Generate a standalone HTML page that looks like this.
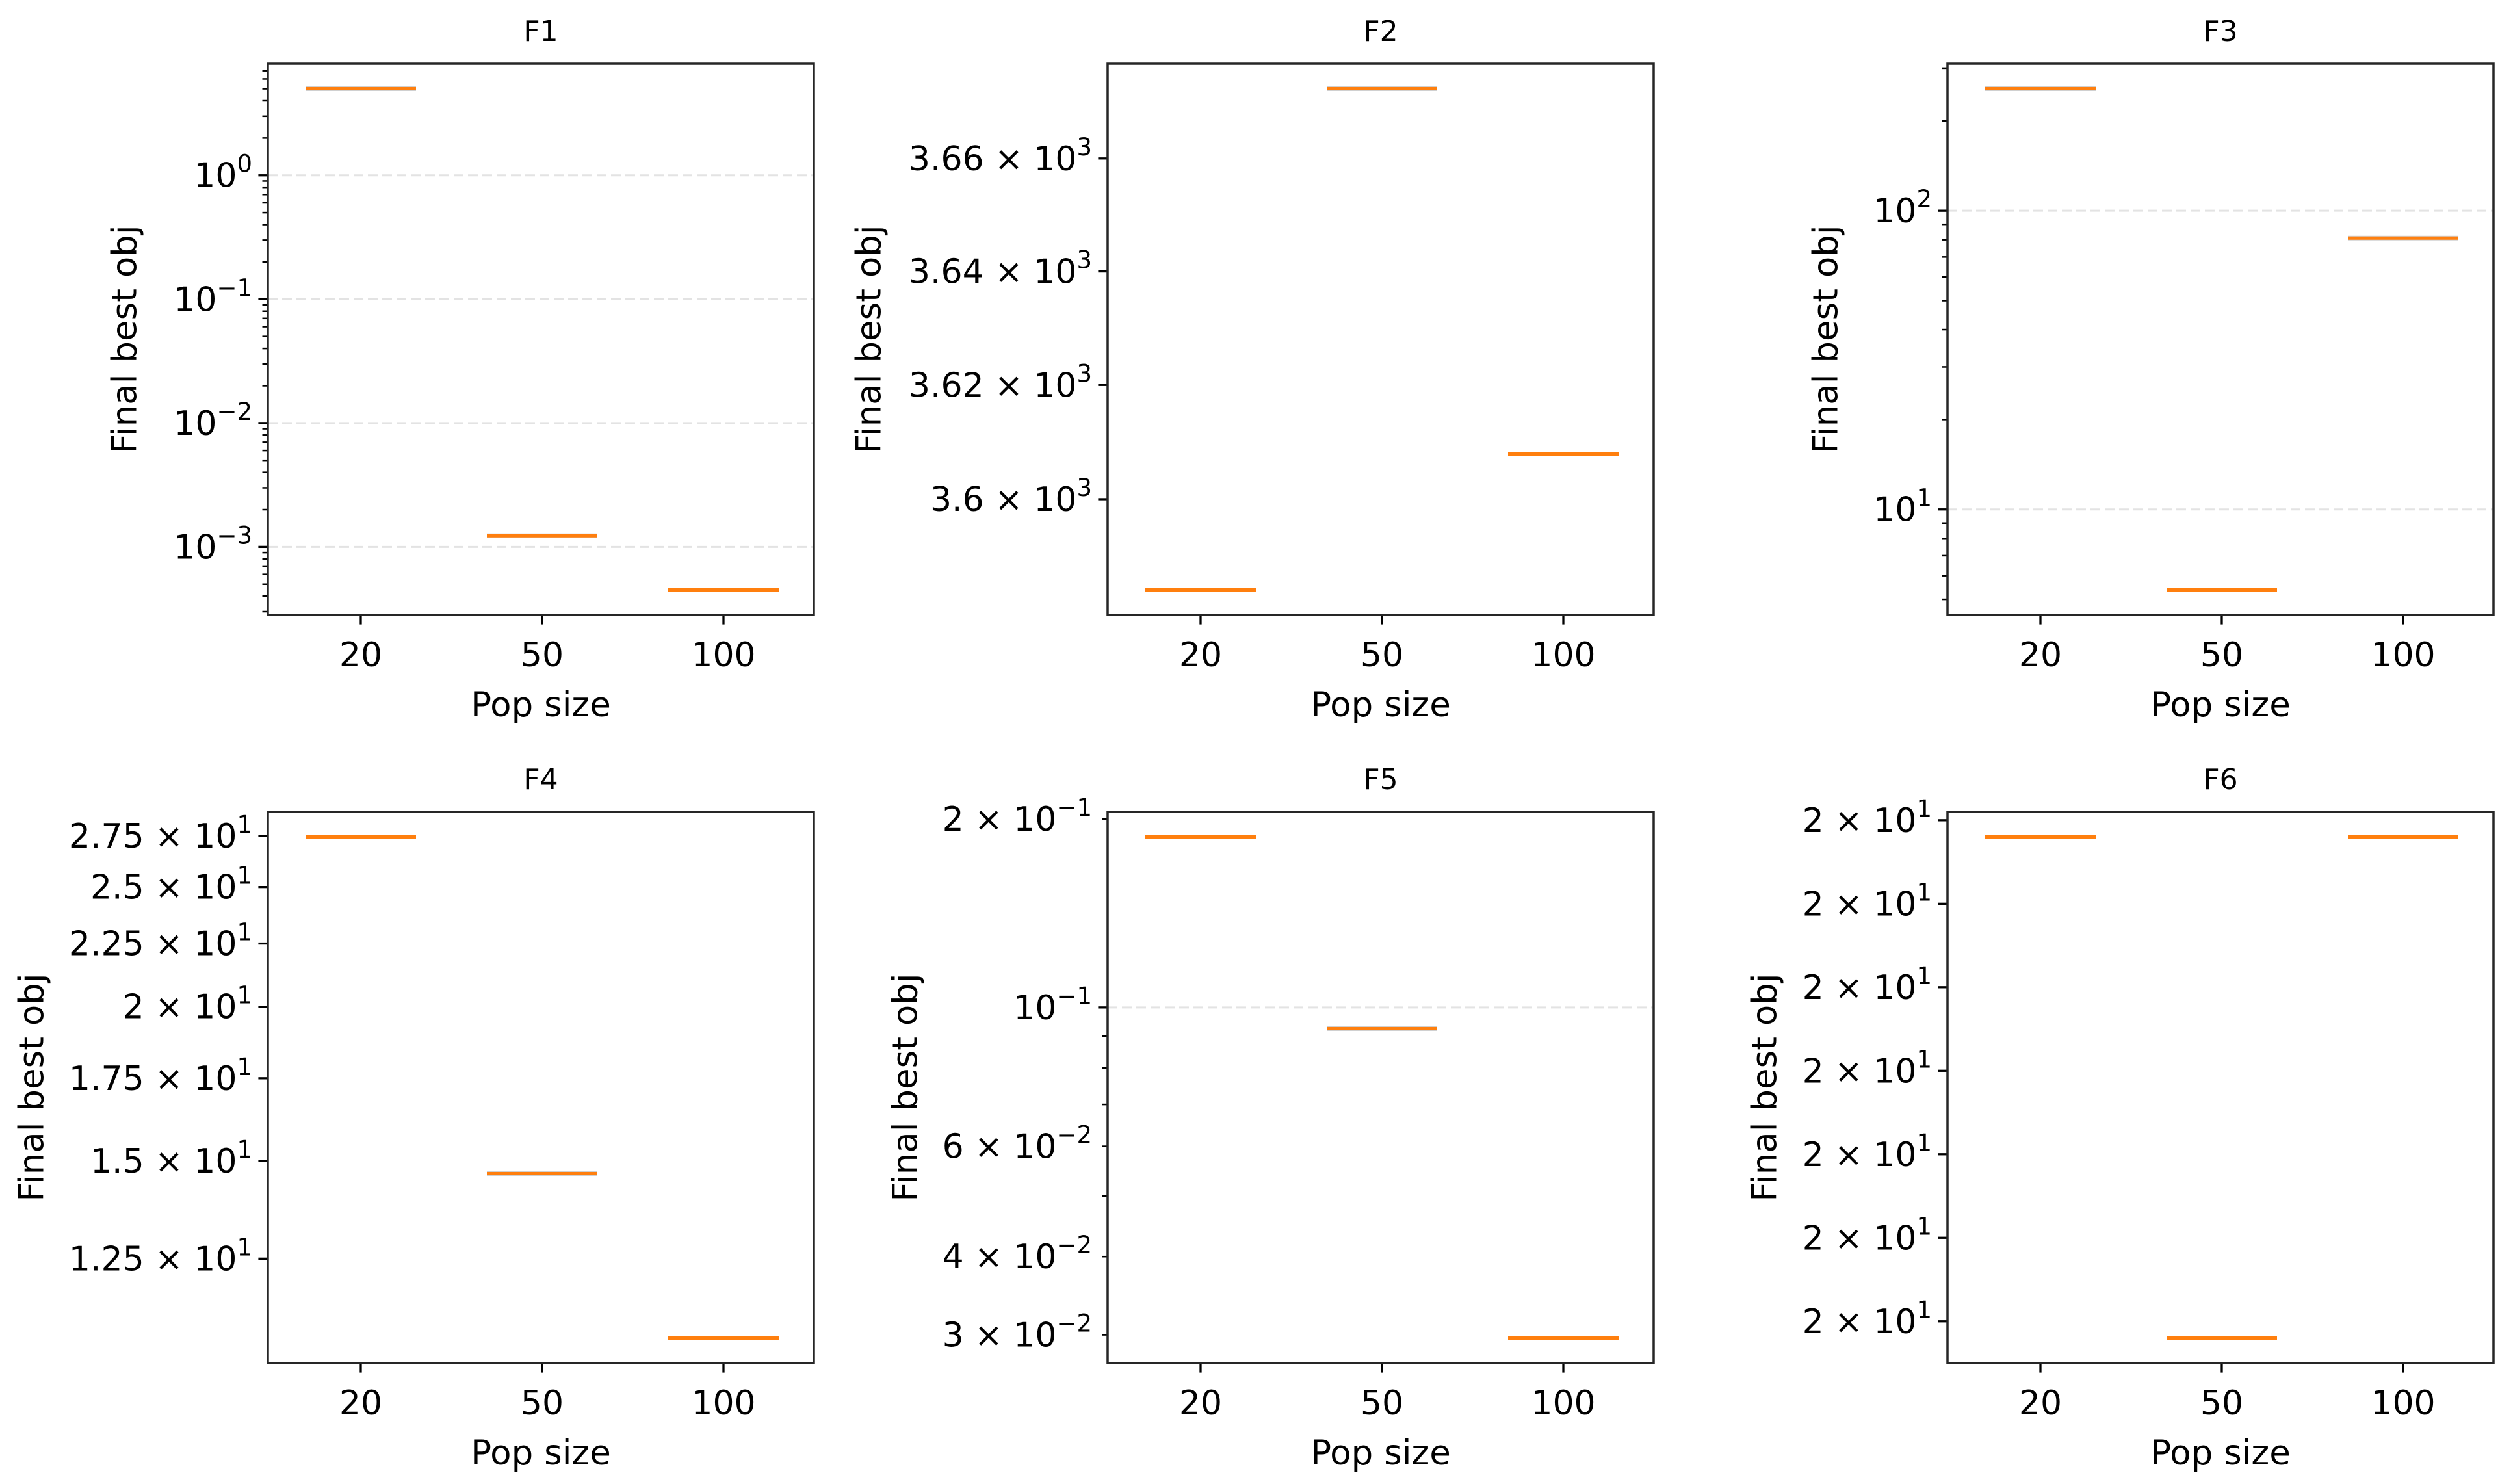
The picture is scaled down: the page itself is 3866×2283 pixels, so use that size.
<!DOCTYPE html>
<html><head><meta charset="utf-8"><style>
html,body{margin:0;padding:0;background:#fff;}
svg{display:block;}
text{font-family:"DejaVu Sans","Liberation Sans",sans-serif;fill:#000;}
</style></head>
<body>
<svg id="fig" xmlns="http://www.w3.org/2000/svg" width="3866" height="2283" viewBox="0 0 3866 2283"></svg>
<script>
// ---- data ----
const categories = ['20', '50', '100'];
const panelTitles = ['F1', 'F2', 'F3', 'F4', 'F5', 'F6'];
const f1Values = [5.0, 1.23e-3, 4.5e-4];
const f2Values = [3584.2, 3672.4, 3607.9];
const f3Values = [256, 5.38, 81];
const f4Values = [27.45, 14.65, 10.78];
const f5Values = [0.1872, 0.0925, 0.02965];
const f6Values = [20.00028, 19.99968, 20.00028];
// tick values
const f1Major = [1e-3, 1e-2, 1e-1, 1];
const f1MajorLabels = [['', '-3'], ['', '-2'], ['', '-1'], ['', '0']];
const f2Ticks = [3600, 3620, 3640, 3660];
const f2TickLabels = [['3.6', '3'], ['3.62', '3'], ['3.64', '3'], ['3.66', '3']];
const f3Major = [10, 100];
const f3MajorLabels = [['', '1'], ['', '2']];
const f4Ticks = [12.5, 15, 17.5, 20, 22.5, 25, 27.5];
const f4TickLabels = [['1.25', '1'], ['1.5', '1'], ['1.75', '1'], ['2', '1'], ['2.25', '1'], ['2.5', '1'], ['2.75', '1']];
const f5Major = [0.1];
const f5MajorLabels = [['', '-1']];
const f5LabeledMinor = [0.03, 0.04, 0.06, 0.2];
const f5LabeledMinorLabels = [['3', '-2'], ['4', '-2'], ['6', '-2'], ['2', '-1']];
const f6Ticks = [19.9997, 19.9998, 19.9999, 20.0, 20.0001, 20.0002, 20.0003];
const f6TickLabels = [['2', '1'], ['2', '1'], ['2', '1'], ['2', '1'], ['2', '1'], ['2', '1'], ['2', '1']];

// ---- layout ----
const colLeft = [412, 1704, 2996];
const rowTop = [98, 1249];
const AW = 840, AH = 848;
const ylabelOffset = [-220, -367, -187, -363, -311, -281];

const NS = 'http://www.w3.org/2000/svg';
const svg = document.getElementById('fig');
function mk(tag, attrs, parent) {
  const e = document.createElementNS(NS, tag);
  for (const k in attrs) e.setAttribute(k, attrs[k]);
  (parent || svg).appendChild(e);
  return e;
}
function logMinors(lo, hi) {
  const out = [];
  for (let e = Math.floor(Math.log10(lo)) - 1; e <= Math.ceil(Math.log10(hi)) + 1; e++) {
    for (let k = 2; k <= 9; k++) {
      const v = k * Math.pow(10, e);
      if (v >= lo && v <= hi) out.push(v);
    }
  }
  return out;
}

const panelData = [f1Values, f2Values, f3Values, f4Values, f5Values, f6Values];

function drawPanel(p) {
  const col = p % 3, row = Math.floor(p / 3);
  const L = colLeft[col], T = rowTop[row];
  const vals = panelData[p];
  const g = mk('g', {});
  
  
  const lmin = Math.log10(Math.min(...vals)), lmax = Math.log10(Math.max(...vals));
  const m = (lmax - lmin) * 0.05;
  const y0 = lmin - m, y1 = lmax + m;
  const yScale = v => T + AH - (Math.log10(v) - y0) / (y1 - y0) * AH;
  const xScale = i => L + 143 + i * 279;
  const vlo = Math.pow(10, y0), vhi = Math.pow(10, y1);
  const inRange = v => v >= vlo && v <= vhi;

  let major = [], majorLab = [], minor = [], labeled = [], labeledLab = [], grid = false;
  if (p === 0) { major = f1Major; majorLab = f1MajorLabels; minor = logMinors(vlo, vhi); grid = true; }
  if (p === 1) { labeled = f2Ticks; labeledLab = f2TickLabels; }
  if (p === 2) { major = f3Major; majorLab = f3MajorLabels; minor = logMinors(vlo, vhi); grid = true; }
  if (p === 3) { labeled = f4Ticks; labeledLab = f4TickLabels; }
  if (p === 4) { major = f5Major; majorLab = f5MajorLabels; grid = true;
    minor = logMinors(vlo, vhi).filter(v => !f5LabeledMinor.some(t => Math.abs(t - v) / v < 1e-6));
    labeled = f5LabeledMinor; labeledLab = f5LabeledMinorLabels; }
  if (p === 5) { labeled = f6Ticks; labeledLab = f6TickLabels; }

  if (grid) major.forEach(v => {
    if (!inRange(v)) return;
    const y = yScale(v);
    const gl = mk('line', {x1: L, x2: L + AW, y1: y, y2: y, stroke: '#e3e3e3', 'stroke-width': 3, 'stroke-dasharray': '15,7'}, g);
    
    
  });

  function yLabel(y, lab) {
    const t = mk('text', {x: L - 24, y: y + 18, 'text-anchor': 'end', 'font-size': 52}, g);
    
    
    const main = (lab[0] ? lab[0] + ' \u00d7 ' : '') + '10';
    const s1 = mk('tspan', {}, t); s1.textContent = main;
    const s2 = mk('tspan', {'font-size': 37, dy: -23}, t); s2.textContent = lab[1].replace('-', '\u2212');
  }
  function tick(y, len, w) {
    const tk = mk('line', {x1: L - len, x2: L, y1: y, y2: y, stroke: '#000', 'stroke-width': w}, g);
    
    
  }
  minor.forEach(v => { if (inRange(v)) tick(yScale(v), 8.5, 2.5); });
  major.forEach((v, i) => { if (inRange(v)) { tick(yScale(v), 14.6, 3.3); yLabel(yScale(v), majorLab[i]); } });
  labeled.forEach((v, i) => { if (inRange(v)) { tick(yScale(v), p === 4 ? 8.5 : 14.6, p === 4 ? 2.5 : 3.3); yLabel(yScale(v), labeledLab[i]); } });

  vals.forEach((v, i) => {
    const y = yScale(v), cx = xScale(i);
    const bk = mk('line', {x1: cx - 85, x2: cx + 85, y1: y, y2: y, stroke: '#d0d0d0', 'stroke-width': 7}, g);
    
    
    const md = mk('line', {x1: cx - 85, x2: cx + 85, y1: y, y2: y, stroke: '#ff7f0e', 'stroke-width': 5}, g);
    
    
  });

  categories.forEach((c, i) => {
    const x = xScale(i);
    const tk = mk('line', {x1: x, x2: x, y1: T + AH, y2: T + AH + 14.6, stroke: '#000', 'stroke-width': 3.3}, g);
    
    
    const t = mk('text', {x: x, y: T + AH + 79, 'text-anchor': 'middle', 'font-size': 52}, g);
    
    
    t.textContent = c;
  });

  const fr = mk('rect', {x: L, y: T, width: AW, height: AH, fill: 'none', stroke: '#262626', 'stroke-width': 3.5}, g);
  
  

  const tt = mk('text', {x: L + AW / 2, y: T - 35, 'text-anchor': 'middle', 'font-size': 44}, g);
  
  
  tt.textContent = panelTitles[p];

  const xl = mk('text', {x: L + AW / 2, y: T + AH + 156, 'text-anchor': 'middle', 'font-size': 53}, g);
  
  
  xl.textContent = 'Pop size';

  const yx = L + ylabelOffset[p], yy = T + AH / 2;
  const yl = mk('text', {x: yx, y: yy, 'text-anchor': 'middle', 'dominant-baseline': 'central', 'font-size': 53, transform: 'rotate(-90 ' + yx + ' ' + yy + ')'}, g);
  
  
  yl.textContent = 'Final best obj';
}
for (let p = 0; p < 6; p++) drawPanel(p);
</script>
</body></html>
